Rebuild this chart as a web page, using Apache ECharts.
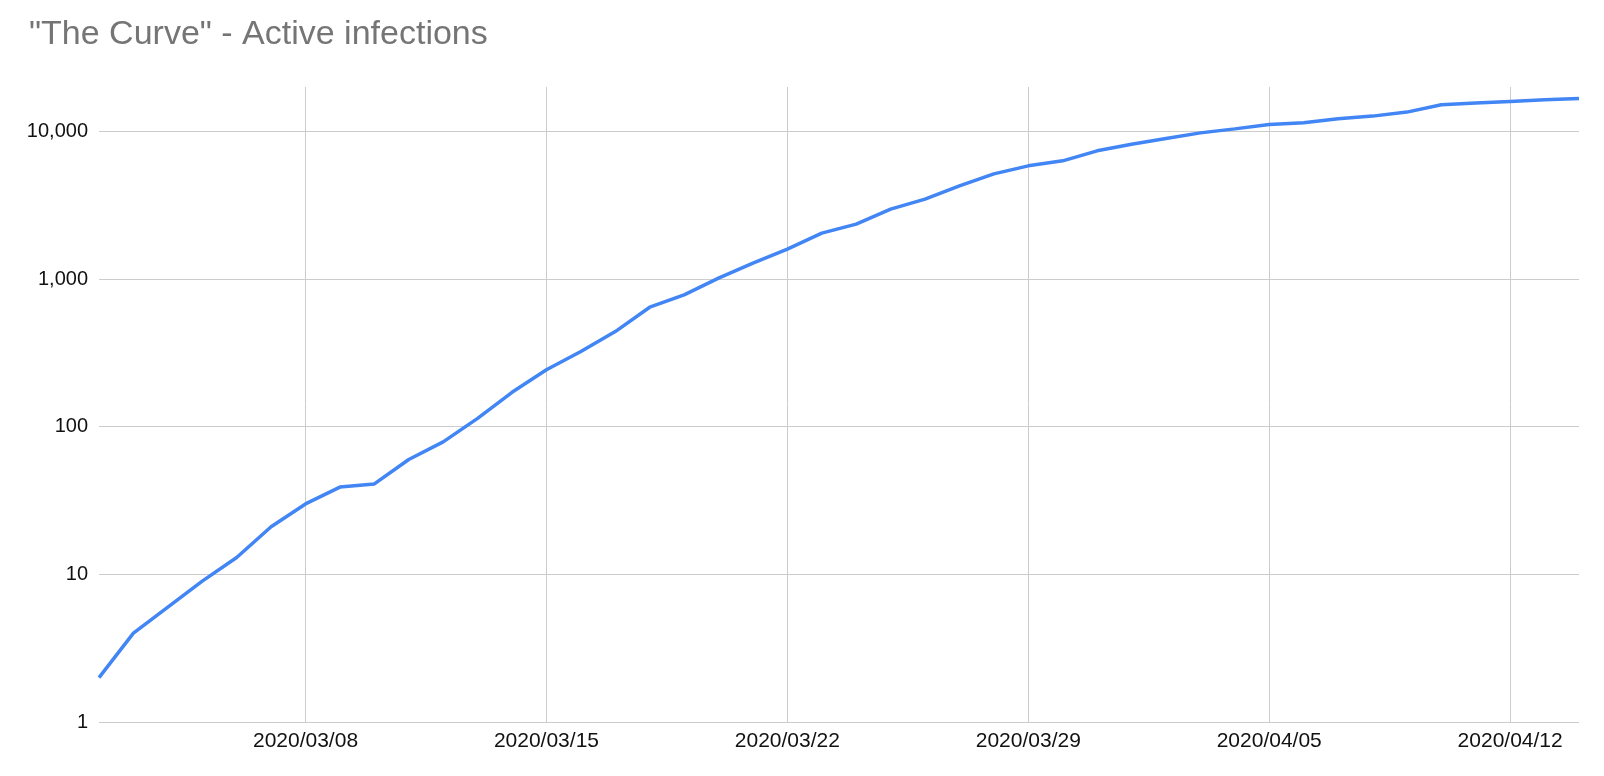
<!DOCTYPE html>
<html>
<head>
<meta charset="utf-8">
<script src="https://cdn.jsdelivr.net/npm/echarts@6/dist/echarts.min.js"></script>
<style>
html,body{margin:0;padding:0;background:#fff;}
#chart{width:1604px;height:776px;}
</style>
</head>
<body>
<div id="chart"></div>
<script>
const titleText = '"The Curve" - Active infections';
const dates = [
  '2020/03/02','2020/03/03','2020/03/04','2020/03/05','2020/03/06','2020/03/07','2020/03/08',
  '2020/03/09','2020/03/10','2020/03/11','2020/03/12','2020/03/13','2020/03/14','2020/03/15',
  '2020/03/16','2020/03/17','2020/03/18','2020/03/19','2020/03/20','2020/03/21','2020/03/22',
  '2020/03/23','2020/03/24','2020/03/25','2020/03/26','2020/03/27','2020/03/28','2020/03/29',
  '2020/03/30','2020/03/31','2020/04/01','2020/04/02','2020/04/03','2020/04/04','2020/04/05',
  '2020/04/06','2020/04/07','2020/04/08','2020/04/09','2020/04/10','2020/04/11','2020/04/12',
  '2020/04/13','2020/04/14'
];
const activeInfections = [
  2, 4, 6, 9, 13, 21, 30,
  39, 41, 60, 79, 114, 171, 243,
  323, 441, 645, 782, 1014, 1282, 1595,
  2048, 2356, 2980, 3477, 4277, 5160, 5849,
  6321, 7390, 8200, 8950, 9780, 10410, 11140,
  11440, 12170, 12700, 13520, 15150, 15560, 15960,
  16370, 16710
];
const yTickValues = [1, 10, 100, 1000, 10000];
const labeledDates = ['2020/03/08','2020/03/15','2020/03/22','2020/03/29','2020/04/05','2020/04/12'];

const FONT = "'Liberation Sans', Arial, Helvetica, sans-serif";
const chart = echarts.init(document.getElementById('chart'), null, {renderer: 'canvas'});
const isLabeled = (i) => labeledDates.indexOf(dates[i]) !== -1;

chart.setOption({
  animation: false,
  backgroundColor: '#ffffff',
  title: {
    text: titleText,
    left: 24,
    top: 13,
    textStyle: {fontFamily: FONT, fontSize: 34, fontWeight: 'normal', color: '#757575'}
  },
  grid: {left: 99, right: 25, top: 87, bottom: 54, containLabel: false},
  xAxis: {
    type: 'category',
    data: dates,
    boundaryGap: false,
    axisLine: {show: false},
    axisTick: {show: false, interval: isLabeled},
    axisLabel: {
      interval: isLabeled,
      fontFamily: FONT, fontSize: 21, color: '#111', margin: 9
    },
    splitLine: {
      show: true,
      interval: isLabeled,
      lineStyle: {color: '#cccccc', width: 1}
    }
  },
  yAxis: {
    type: 'log',
    logBase: 10,
    min: 1,
    max: 20000,
    axisLine: {show: false},
    axisTick: {show: false},
    axisLabel: {
      fontFamily: FONT, fontSize: 20, color: '#111', margin: 11,
      showMaxLabel: false,
      formatter: (v) => {
        const r = Math.round(v);
        return yTickValues.indexOf(r) !== -1 ? r.toLocaleString('en-US') : '';
      }
    },
    splitLine: {show: true, showMaxLine: false, lineStyle: {color: '#cccccc', width: 1}}
  },
  series: [{
    type: 'line',
    data: activeInfections,
    showSymbol: false,
    symbol: 'none',
    lineStyle: {color: '#4285F4', width: 3.5},
    itemStyle: {color: '#4285F4'}
  }]
});
</script>
</body>
</html>
